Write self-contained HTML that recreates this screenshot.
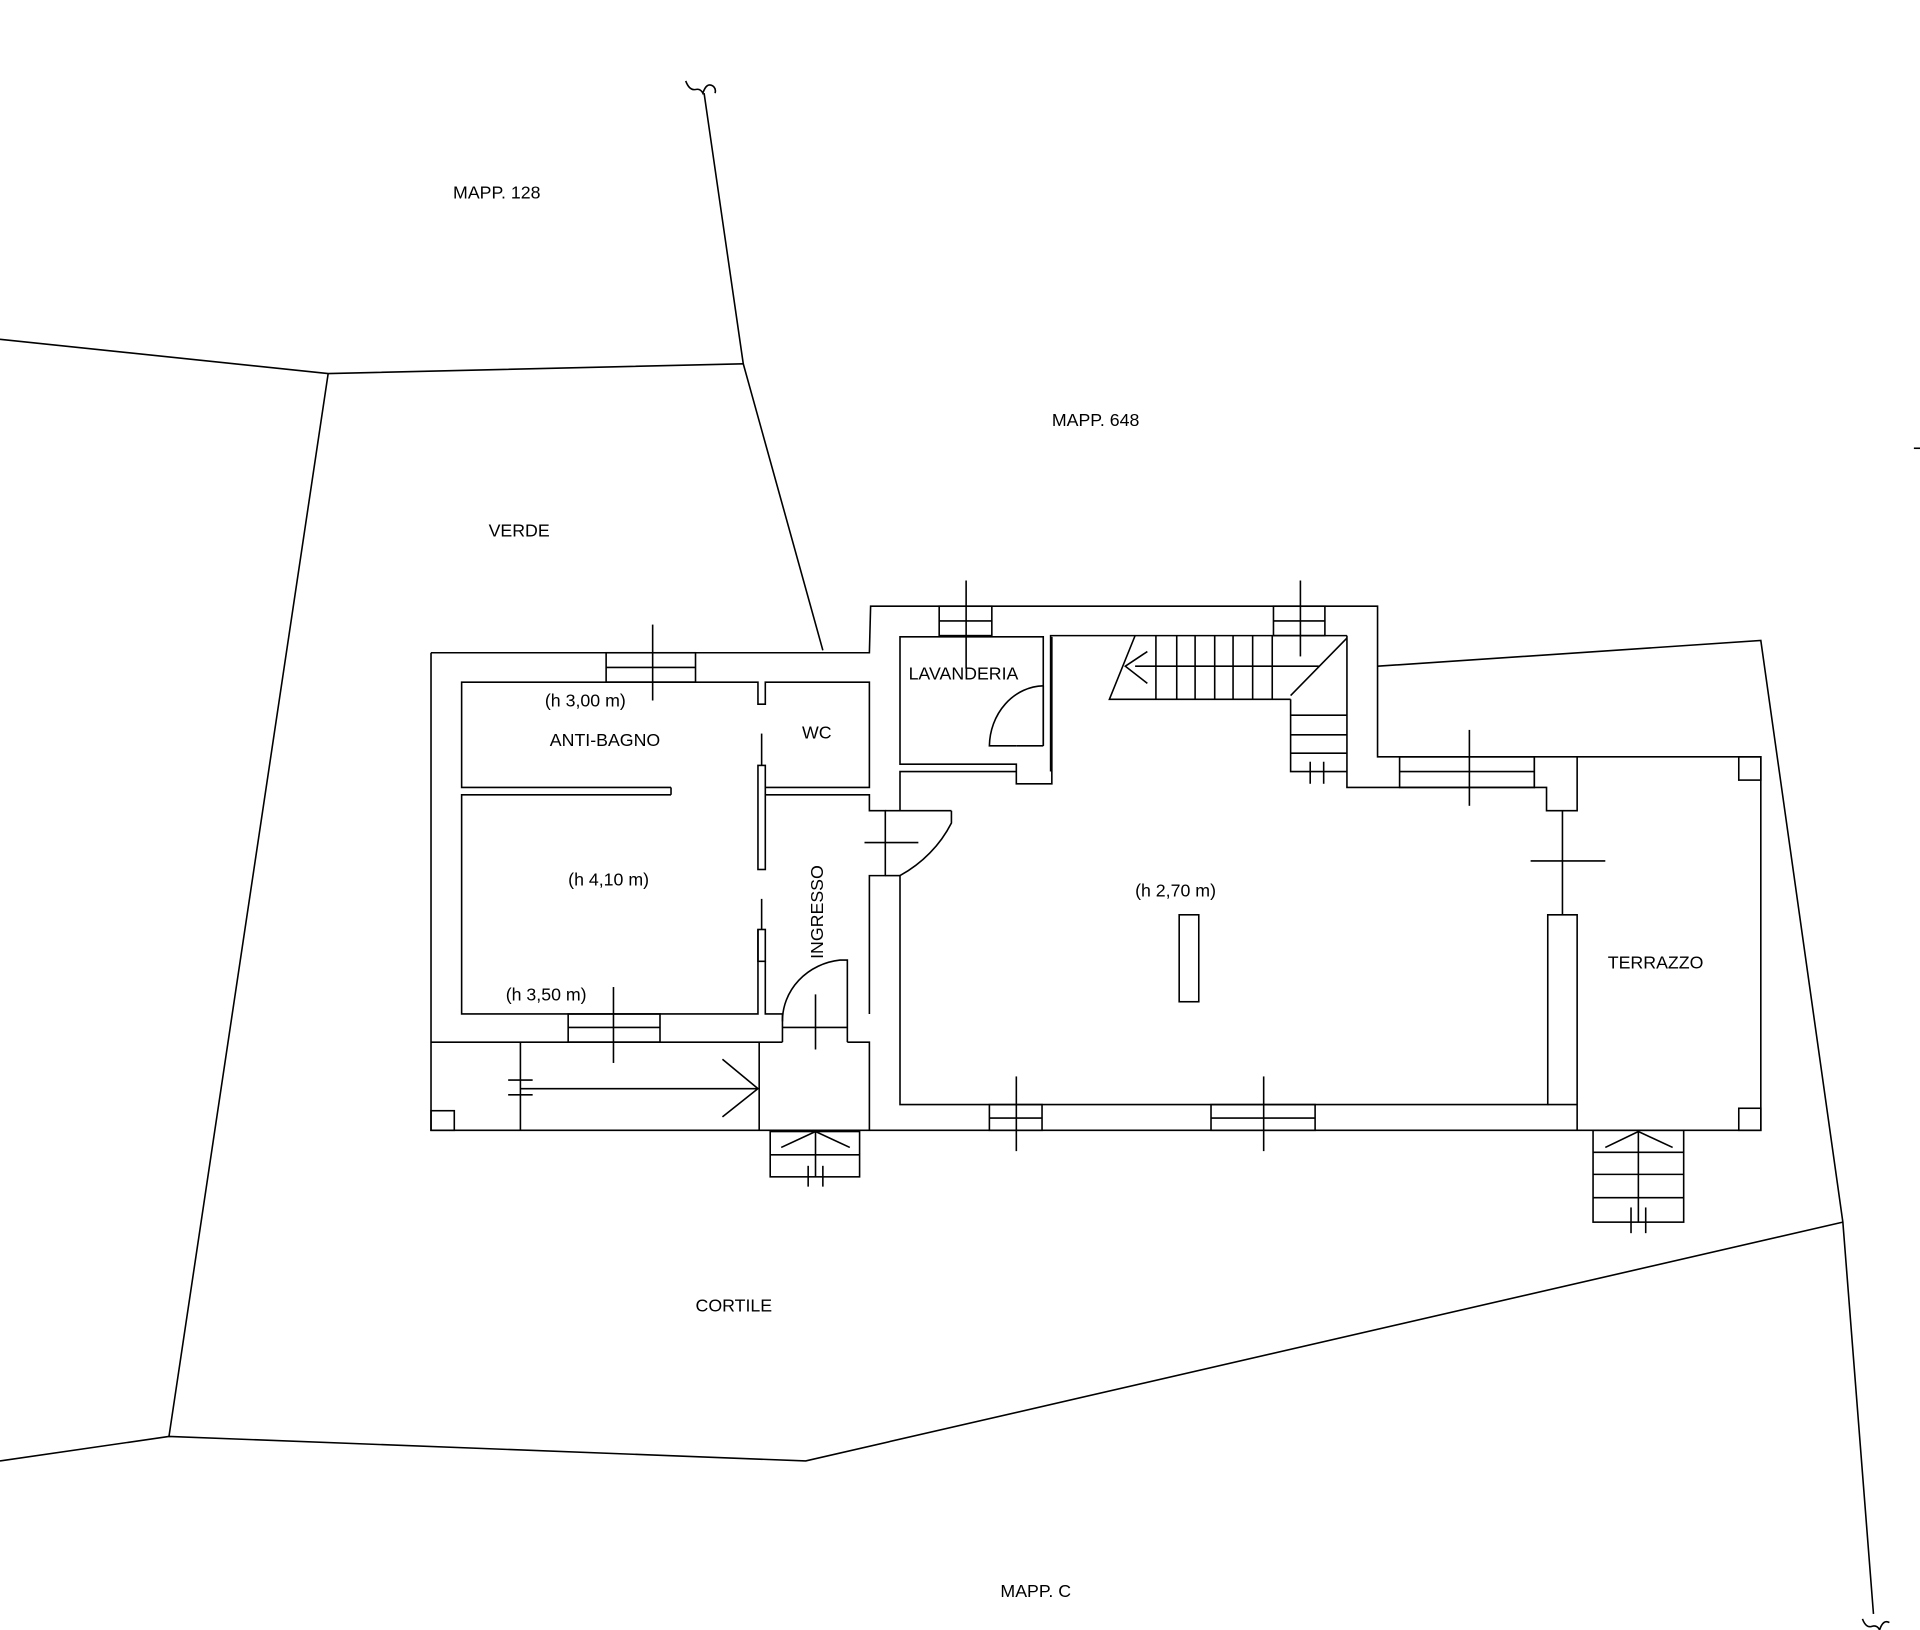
<!DOCTYPE html>
<html><head><meta charset="utf-8"><style>
html,body{margin:0;padding:0;background:#fff;}
svg{display:block;}
text{font-family:"Liberation Sans",sans-serif;font-size:14.5px;fill:#000;}
</style></head><body>
<svg width="1920" height="1630" viewBox="0 0 1568 1331" xmlns="http://www.w3.org/2000/svg">
<g fill="none" stroke="#000" stroke-width="1.3">
<!-- boundaries -->
<polyline points="0,277 268,305 607,297"/>
<polyline points="575,76 607,297 672,531"/>
<path d="M560,66 q3,8 8,7 q4,-1 6,3 q3,-9 8,-6 q3,2 2,6"/>
<line x1="268" y1="305" x2="138" y2="1173"/>
<polyline points="0,1193 138,1173 658,1193 1505,998"/>
<polyline points="1125,544 1438,523 1505,998 1530,1318"/>
<path d="M1521,1322 q3,8 8,6 q4,-1 6,3 q3,-9 8,-6"/>
<line x1="1563" y1="366" x2="1568" y2="366"/>
<!-- outer walls -->
<polyline points="352,533 710,533 711,495 1125,495 1125,618 1438,618 1438,923 352,923 352,533"/>
<!-- top window left -->
<rect x="495" y="533" width="73" height="24"/><line x1="495" y1="545" x2="568" y2="545"/><line x1="533" y1="510" x2="533" y2="572"/>
<!-- anti-bagno -->
<polyline points="548,643 377,643 377,557 619,557 619,575 625,575 625,557 710,557 710,643 625,643"/>
<line x1="622" y1="599" x2="622" y2="625"/>
<rect x="619" y="625" width="6" height="85"/>
<polyline points="548,649 377,649 377,828 619,828 619,759"/>
<line x1="548" y1="643" x2="548" y2="649"/>
<line x1="622" y1="734" x2="622" y2="759"/>
<rect x="619" y="759" width="6" height="26"/>
<!-- ingresso -->
<polyline points="625,785 625,828 639,828 639,851"/>
<polyline points="625,649 710,649 710,662 723,662 723,715 710,715 710,828"/>
<line x1="723" y1="662" x2="777" y2="662"/>
<path d="M777,662 V672 A105,100 0 0 1 735,715"/>
<line x1="706" y1="688" x2="750" y2="688"/>
<line x1="723" y1="715" x2="735" y2="715"/>
<line x1="639" y1="839" x2="692" y2="839"/>
<polyline points="639,834 639,834"/>
<path d="M692,851 V784 H686 A53,50 0 0 0 639,834"/>
<polyline points="692,851 710,851 710,923"/>
<line x1="666" y1="812" x2="666" y2="857"/>
<!-- bottom window left room -->
<rect x="464" y="828" width="75" height="23"/><line x1="464" y1="839" x2="539" y2="839"/><line x1="501" y1="806" x2="501" y2="868"/>
<!-- lower strip -->
<line x1="352" y1="851" x2="639" y2="851"/>
<line x1="425" y1="851" x2="425" y2="923"/>
<line x1="620" y1="851" x2="620" y2="923"/>
<rect x="352" y="907" width="19" height="16"/>
<line x1="425" y1="889" x2="619" y2="889"/>
<polyline points="590,865 619,889 590,912"/>
<line x1="415" y1="882" x2="435" y2="882"/><line x1="415" y1="894" x2="435" y2="894"/>
<!-- entrance steps -->
<rect x="629" y="924" width="73" height="37"/><line x1="629" y1="943" x2="702" y2="943"/><line x1="666" y1="924" x2="666" y2="961"/>
<polyline points="638,937 666,924 694,937"/>
<line x1="660" y1="952" x2="660" y2="969"/><line x1="672" y1="952" x2="672" y2="969"/>
<!-- lavanderia -->
<polyline points="852,609 852,520 735,520 735,624 830,624 830,640 859,640 859,520"/>
<line x1="830" y1="609" x2="852" y2="609"/>
<path d="M830,609 H808 A45,50 0 0 1 852,560"/>
<line x1="852" y1="560" x2="852" y2="609"/>
<rect x="767" y="495" width="43" height="24"/><line x1="767" y1="507" x2="810" y2="507"/><line x1="789" y1="474" x2="789" y2="546"/>
<rect x="1040" y="495" width="42" height="24"/><line x1="1040" y1="507" x2="1082" y2="507"/><line x1="1062" y1="474" x2="1062" y2="536"/>
<!-- main room -->
<polyline points="830,630 735,630 735,662"/>
<polyline points="735,715 735,902 1264,902 1264,747 1288,747 1288,923"/>
<line x1="1264" y1="902" x2="1288" y2="902"/>
<line x1="1276" y1="662" x2="1276" y2="747"/>
<line x1="1250" y1="703" x2="1311" y2="703"/>
<polyline points="1100,519 1100,643 1253,643 1253,618"/>
<polyline points="1253,643 1263,643 1263,662 1288,662 1288,618"/>
<rect x="1143" y="618" width="110" height="25"/><line x1="1143" y1="630" x2="1253" y2="630"/><line x1="1200" y1="596" x2="1200" y2="658"/>
<!-- stairs -->
<polyline points="858,630 858,519 1100,519"/>
<polyline points="927,519 906,571 1054,571"/>
<line x1="927" y1="544" x2="1077" y2="544"/>
<line x1="1100" y1="521" x2="1054" y2="568"/>
<g>
<line x1="944" y1="519" x2="944" y2="571"/><line x1="961" y1="519" x2="961" y2="571"/><line x1="976" y1="519" x2="976" y2="571"/><line x1="992" y1="519" x2="992" y2="571"/><line x1="1007" y1="519" x2="1007" y2="571"/><line x1="1023" y1="519" x2="1023" y2="571"/><line x1="1039" y1="519" x2="1039" y2="571"/>
</g>
<polyline points="1054,571 1054,630 1100,630"/>
<line x1="1054" y1="584" x2="1100" y2="584"/><line x1="1054" y1="600" x2="1100" y2="600"/><line x1="1054" y1="615" x2="1100" y2="615"/>
<line x1="1070" y1="622" x2="1070" y2="640"/><line x1="1081" y1="622" x2="1081" y2="640"/>
<polyline points="937,532 919,544 937,558"/>
<!-- column -->
<rect x="963" y="747" width="16" height="71"/>
<!-- bottom windows -->
<rect x="808" y="902" width="43" height="21"/><line x1="808" y1="913" x2="851" y2="913"/><line x1="830" y1="879" x2="830" y2="940"/>
<rect x="989" y="902" width="85" height="21"/><line x1="989" y1="913" x2="1074" y2="913"/><line x1="1032" y1="879" x2="1032" y2="940"/>
<!-- terrazzo -->
<rect x="1420" y="618" width="18" height="19"/>
<rect x="1420" y="905" width="18" height="18"/>
<rect x="1301" y="923" width="74" height="75"/>
<line x1="1301" y1="941" x2="1375" y2="941"/><line x1="1301" y1="959" x2="1375" y2="959"/><line x1="1301" y1="978" x2="1375" y2="978"/>
<line x1="1338" y1="924" x2="1338" y2="998"/>
<polyline points="1311,937 1338,924 1366,937"/>
<line x1="1332" y1="986" x2="1332" y2="1007"/><line x1="1344" y1="986" x2="1344" y2="1007"/>
</g>
<text x="370" y="162">MAPP. 128</text>
<text x="859" y="348">MAPP. 648</text>
<text x="399" y="438">VERDE</text>
<text x="568" y="1071">CORTILE</text>
<text x="817" y="1304">MAPP. C</text>
<text x="445" y="577">(h 3,00 m)</text>
<text x="449" y="609">ANTI-BAGNO</text>
<text x="655" y="603">WC</text>
<text x="742" y="555">LAVANDERIA</text>
<text x="464" y="723">(h 4,10 m)</text>
<text x="413" y="817">(h 3,50 m)</text>
<text x="927" y="732">(h 2,70 m)</text>
<text x="1313" y="791">TERRAZZO</text>
<text transform="translate(672,783) rotate(-90)">INGRESSO</text>
</svg>
</body></html>
